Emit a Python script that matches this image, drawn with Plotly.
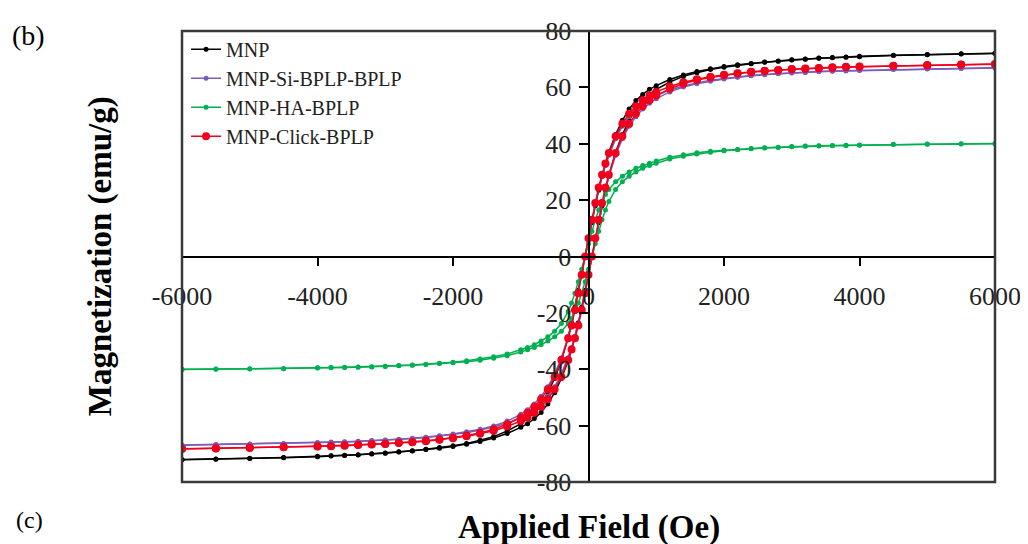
import plotly.graph_objects as go

# ---------------- data ----------------
H_DOWN = [6000, 5500, 5000, 4500, 4000, 3800, 3600, 3400, 3200, 3000, 2800, 2600, 2400, 2200, 2000,
          1800, 1600, 1400, 1200, 1000, 900, 800, 700, 600, 500, 400, 300, 250, 200, 150, 100, 50, 0,
          -50, -100, -150, -200, -250, -300, -400, -500, -600, -700, -800, -900, -1000, -1200, -1400,
          -1600, -1800, -2000, -2200, -2400, -2600, -2800, -3000, -3200, -3400, -3600, -3800, -4000,
          -4500, -5000, -5500, -6000]
H_UP = [-6000, -5500, -5000, -4500, -4000, -3800, -3600, -3400, -3200, -3000, -2800, -2600, -2400, -2200,
        -2000, -1800, -1600, -1400, -1200, -1000, -900, -800, -700, -600, -500, -400, -300, -250, -200,
        -150, -100, -50, 0, 50, 100, 150, 200, 250, 300, 400, 500, 600, 700, 800, 900, 1000, 1200, 1400,
        1600, 1800, 2000, 2200, 2400, 2600, 2800, 3000, 3200, 3400, 3600, 3800, 4000, 4500, 5000, 5500, 6000]

MNP_DOWN = [72.1, 71.9, 71.7, 71.4, 71.0, 70.8, 70.6, 70.4, 70.1, 69.8, 69.4, 69.0, 68.5, 68.0, 67.4,
            66.6, 65.6, 64.4, 62.8, 60.6, 59.3, 57.5, 55.3, 52.3, 48.3, 43.3, 37.0, 33.0, 28.5, 23.5,
            18.0, 12.0, 6.0, 0.0, -6.0, -12.0, -18.0, -23.5, -28.5, -37.0, -43.3, -48.3, -52.3, -55.3,
            -57.5, -59.3, -61.9, -63.9, -65.2, -66.3, -67.1, -67.8, -68.4, -68.9, -69.3, -69.7, -70.0,
            -70.3, -70.5, -70.7, -70.9, -71.3, -71.6, -71.8, -72.0]
MNP_UP = [-72.1, -71.9, -71.7, -71.4, -71.0, -70.8, -70.6, -70.4, -70.1, -69.8, -69.4, -69.0, -68.5, -68.0,
          -67.4, -66.6, -65.6, -64.4, -62.8, -60.6, -59.3, -57.5, -55.3, -52.3, -48.3, -43.3, -37.0, -33.0,
          -28.5, -23.5, -18.0, -12.0, -6.0, 0.0, 6.0, 12.0, 18.0, 23.5, 28.5, 37.0, 43.3, 48.3, 52.3, 55.3,
          57.5, 59.3, 61.9, 63.9, 65.2, 66.3, 67.1, 67.8, 68.4, 68.9, 69.3, 69.7, 70.0, 70.3, 70.5, 70.7,
          70.9, 71.3, 71.6, 71.8, 72.0]

SI_DOWN = [67.0, 66.8, 66.6, 66.4, 66.1, 66.0, 65.8, 65.6, 65.4, 65.2, 64.9, 64.6, 64.2, 63.7, 63.2,
           62.5, 61.6, 60.5, 59.1, 57.2, 56.0, 54.4, 52.3, 49.6, 46.2, 41.8, 35.9, 32.3, 28.4, 24.0,
           18.6, 12.7, 6.4, 0.0, -6.4, -12.7, -18.6, -24.0, -28.4, -35.9, -41.8, -46.2, -49.6, -52.3,
           -54.4, -56.0, -58.4, -60.1, -61.3, -62.2, -63.0, -63.6, -64.1, -64.5, -64.8, -65.1, -65.3,
           -65.5, -65.7, -65.8, -66.0, -66.3, -66.5, -66.7, -66.9]
SI_UP = [-67.0, -66.8, -66.6, -66.4, -66.1, -66.0, -65.8, -65.6, -65.4, -65.2, -64.9, -64.6, -64.2, -63.7,
         -63.2, -62.5, -61.6, -60.5, -59.1, -57.2, -56.0, -54.4, -52.3, -49.6, -46.2, -41.8, -35.9, -32.3,
         -28.4, -24.0, -18.6, -12.7, -6.4, 0.0, 6.4, 12.7, 18.6, 24.0, 28.4, 35.9, 41.8, 46.2, 49.6, 52.3,
         54.4, 56.0, 58.4, 60.1, 61.3, 62.2, 63.0, 63.6, 64.1, 64.5, 64.8, 65.1, 65.3, 65.5, 65.7, 65.8,
         66.0, 66.3, 66.5, 66.7, 66.9]

HA_DOWN = [40.1, 40.0, 39.9, 39.8, 39.6, 39.5, 39.4, 39.3, 39.2, 39.0, 38.8, 38.6, 38.3, 38.0, 37.7,
           37.3, 36.8, 36.1, 35.2, 33.9, 33.1, 32.3, 31.3, 30.0, 28.5, 26.5, 23.8, 22.0, 19.5, 16.5,
           13.0, 9.0, 4.5, 0.0, -4.5, -9.0, -13.0, -16.5, -19.5, -23.8, -26.5, -28.5, -30.0, -31.3,
           -32.3, -33.1, -34.6, -35.6, -36.4, -37.0, -37.5, -37.9, -38.2, -38.5, -38.7, -38.9, -39.1,
           -39.2, -39.3, -39.4, -39.5, -39.7, -39.8, -39.9, -40.0]
HA_UP = [-40.1, -40.0, -39.9, -39.8, -39.6, -39.5, -39.4, -39.3, -39.2, -39.0, -38.8, -38.6, -38.3, -38.0,
         -37.7, -37.3, -36.8, -36.1, -35.2, -33.9, -33.1, -32.3, -31.3, -30.0, -28.5, -26.5, -23.8, -22.0,
         -19.5, -16.5, -13.0, -9.0, -4.5, 0.0, 4.5, 9.0, 13.0, 16.5, 19.5, 23.8, 26.5, 28.5, 30.0, 31.3,
         32.3, 33.1, 34.6, 35.6, 36.4, 37.0, 37.5, 37.9, 38.2, 38.5, 38.7, 38.9, 39.1, 39.2, 39.3, 39.4,
         39.5, 39.7, 39.8, 39.9, 40.0]

CLICK_DOWN = [68.3, 68.1, 67.9, 67.7, 67.4, 67.3, 67.1, 66.9, 66.7, 66.5, 66.2, 65.9, 65.5, 65.0, 64.5,
              63.8, 62.9, 61.8, 60.3, 58.4, 57.1, 55.4, 53.3, 50.6, 47.1, 42.7, 36.7, 33.0, 29.0, 24.5,
              19.0, 13.0, 6.5, 0.0, -6.5, -13.0, -19.0, -24.5, -29.0, -36.7, -42.7, -47.1, -50.6, -53.3,
              -55.4, -57.1, -59.5, -61.3, -62.6, -63.5, -64.3, -64.9, -65.4, -65.8, -66.1, -66.4, -66.6,
              -66.8, -67.0, -67.2, -67.3, -67.6, -67.8, -68.0, -68.2]
CLICK_UP = [-68.3, -68.1, -67.9, -67.7, -67.4, -67.3, -67.1, -66.9, -66.7, -66.5, -66.2, -65.9, -65.5, -65.0,
            -64.5, -63.8, -62.9, -61.8, -60.3, -58.4, -57.1, -55.4, -53.3, -50.6, -47.1, -42.7, -36.7, -33.0,
            -29.0, -24.5, -19.0, -13.0, -6.5, 0.0, 6.5, 13.0, 19.0, 24.5, 29.0, 36.7, 42.7, 47.1, 50.6, 53.3,
            55.4, 57.1, 59.5, 61.3, 62.6, 63.5, 64.3, 64.9, 65.4, 65.8, 66.1, 66.4, 66.6, 66.8, 67.0, 67.2,
            67.3, 67.6, 67.8, 68.0, 68.2]

SERIES = ["MNP", "MNP-Si-BPLP-BPLP", "MNP-HA-BPLP", "MNP-Click-BPLP"]
X_TICKS = [-6000, -4000, -2000, 0, 2000, 4000, 6000]
Y_TICKS = [-80, -60, -40, -20, 0, 20, 40, 60, 80]
X_TITLE = "Applied Field (Oe)"
Y_TITLE = "Magnetization (emu/g)"

# ---------------- styling ----------------
SERIF = "Liberation Serif, Times New Roman, serif"
styles = [
    dict(color="#000000", msize=5, lw=1.5),
    dict(color="#7B5CB8", msize=5, lw=1.5),
    dict(color="#00B050", msize=5, lw=1.5),
    dict(color="#F0001C", msize=8, lw=1.5),
]
branches = [
    (MNP_DOWN, MNP_UP),
    (SI_DOWN, SI_UP),
    (HA_DOWN, HA_UP),
    (CLICK_DOWN, CLICK_UP),
]

fig = go.Figure()
for name, st, (down, up) in zip(SERIES, styles, branches):
    for i, (hx, my) in enumerate([(H_DOWN, down), (H_UP, up)]):
        fig.add_trace(go.Scatter(
            x=hx, y=my,
            mode="lines+markers", name=name, legendgroup=name,
            showlegend=(i == 0),
            line=dict(color=st["color"], width=st["lw"]),
            marker=dict(color=st["color"], size=st["msize"], symbol="circle"),
        ))

# The page body has an 8px default margin, so the figure is sized to fill
# the rest of the 1028x544 window.
fig.update_layout(
    width=1020, height=536,
    margin=dict(l=174, r=33, t=23, b=62, autoexpand=False),
    paper_bgcolor="white", plot_bgcolor="white",
    font=dict(family=SERIF, color="#000000"),
    showlegend=True,
    legend=dict(x=0.005, y=1.003, xanchor="left", yanchor="top",
                bgcolor="rgba(0,0,0,0)", font=dict(family=SERIF, size=20, color="#222222"),
                itemwidth=30, tracegroupgap=0),
    # axes crossing at the origin
    xaxis=dict(anchor="free", position=0.5, range=[-6000, 6000],
               tickmode="array", tickvals=X_TICKS, ticktext=[str(v) for v in X_TICKS],
               ticks="outside", ticklen=8, tickwidth=2, tickcolor="#000000",
               showline=True, linecolor="#000000", linewidth=2, showgrid=False, zeroline=False,
               tickfont=dict(family=SERIF, size=26, color="#222222"), ticklabelstandoff=8),
    yaxis=dict(anchor="free", position=0.5, side="left", range=[-80, 80],
               tickmode="array", tickvals=Y_TICKS, ticktext=[str(v) for v in Y_TICKS],
               ticks="outside", ticklen=9, tickwidth=2, tickcolor="#000000",
               showline=True, linecolor="#000000", linewidth=2, showgrid=False, zeroline=False,
               tickfont=dict(family=SERIF, size=26, color="#222222"), ticklabelstandoff=2),
    shapes=[
        dict(type="rect", xref="paper", yref="paper", x0=0, y0=0, x1=1, y1=1,
             line=dict(color="#3a3a3a", width=2.5), fillcolor="rgba(0,0,0,0)", layer="above"),
    ],
    annotations=[
        dict(text="<b>" + X_TITLE + "</b>", xref="paper", yref="paper", x=0.5, y=-0.1,
             xanchor="center", yanchor="middle", showarrow=False,
             font=dict(family=SERIF, size=33, color="#000000")),
        dict(text="<b>" + Y_TITLE + "</b>", xref="paper", yref="paper", x=-0.1, y=0.5,
             xanchor="center", yanchor="middle", textangle=-90, showarrow=False,
             font=dict(family=SERIF, size=33, color="#000000")),
        dict(text="(b)", xref="paper", yref="paper", x=-0.212, y=0.99, xanchor="left",
             yanchor="middle", showarrow=False, font=dict(family=SERIF, size=28, color="#000000")),
        dict(text="(c)", xref="paper", yref="paper", x=-0.207, y=-0.118, xanchor="left",
             yanchor="bottom", showarrow=False, font=dict(family=SERIF, size=24, color="#000000")),
    ],
)

fig.write_html("out.html")
